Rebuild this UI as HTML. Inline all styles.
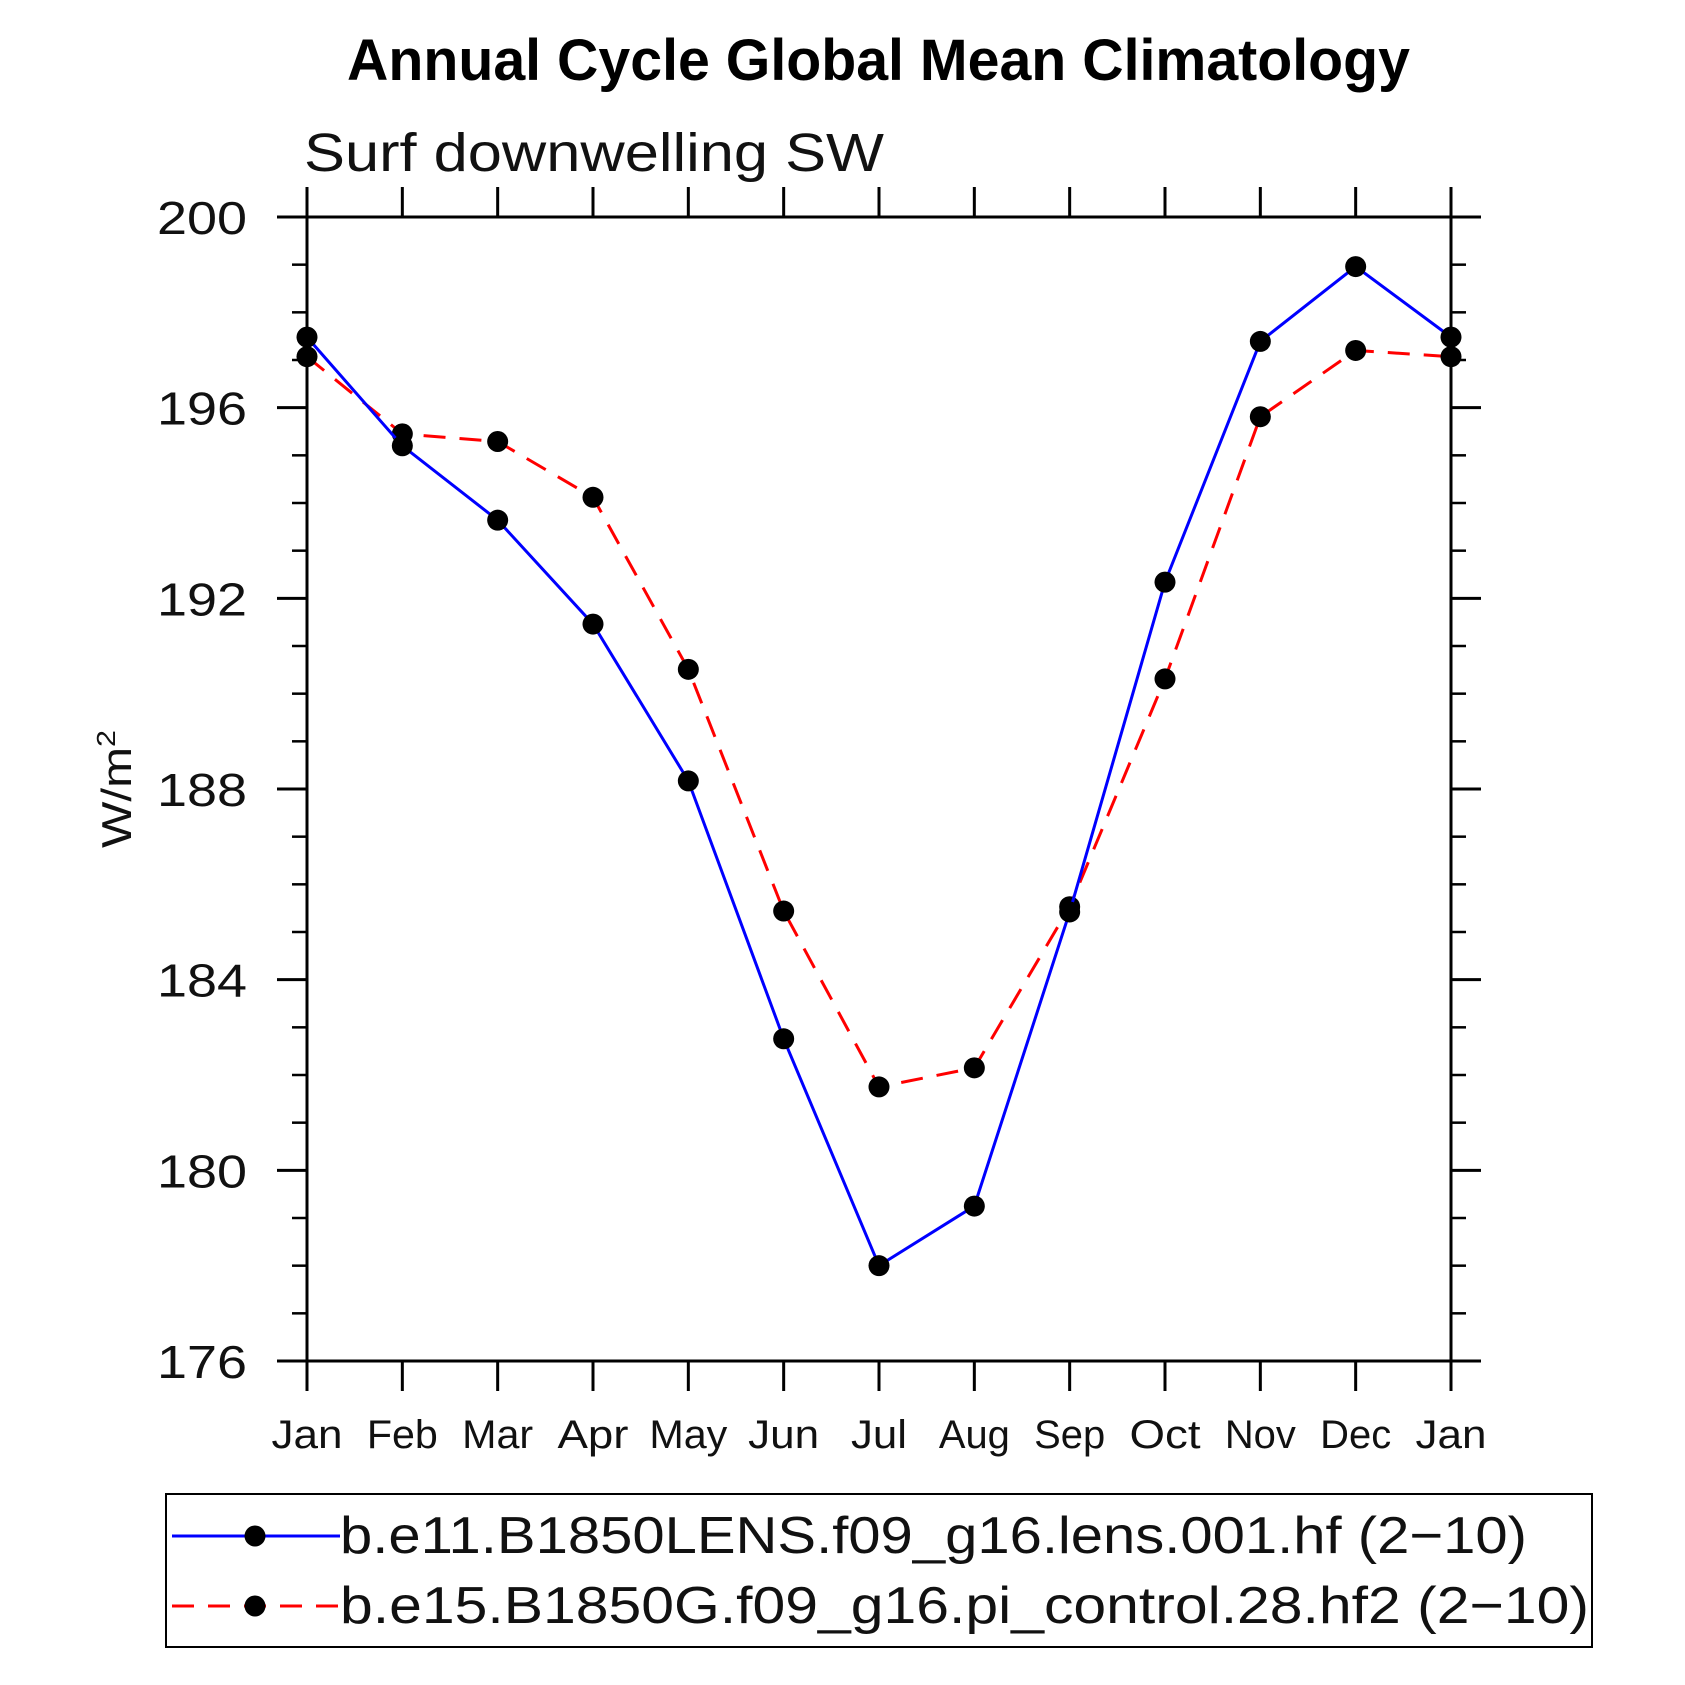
<!DOCTYPE html>
<html><head><meta charset="utf-8"><style>
html,body{margin:0;padding:0;background:#fff;}
svg{display:block;}
text{font-family:"Liberation Sans","DejaVu Sans",sans-serif;}
</style></head><body>
<svg id="chart" width="1685" height="1685" viewBox="0 0 1685 1685" xmlns="http://www.w3.org/2000/svg">
<text x="347" y="80" textLength="1063" lengthAdjust="spacingAndGlyphs" font-size="58" font-weight="bold">Annual Cycle Global Mean Climatology</text>
<text x="304" y="171" textLength="580" lengthAdjust="spacingAndGlyphs" font-size="54" fill="#111">Surf downwelling SW</text>
<text transform="translate(131,848) rotate(-90)" textLength="118" lengthAdjust="spacingAndGlyphs" font-size="42" fill="#111">W/m<tspan dy="-16" font-size="26">2</tspan></text>
<g id="axes"></g>
<g id="series"></g>
<rect x="166" y="1494" width="1426" height="153" fill="none" stroke="#000" stroke-width="2"/>
<g>
<line x1="172" y1="1536" x2="340" y2="1536" stroke="#0000ff" stroke-width="3"/>
<circle cx="255" cy="1536" r="10.5" fill="#000"/>
<text x="340" y="1553" textLength="1187" lengthAdjust="spacingAndGlyphs" font-size="52" fill="#111">b.e11.B1850LENS.f09_g16.lens.001.hf (2−10)</text>
</g>
<g>
<line x1="172" y1="1606" x2="340" y2="1606" stroke="#ff0000" stroke-width="3" stroke-dasharray="22,14"/>
<circle cx="255" cy="1606" r="10.5" fill="#000"/>
<text x="340" y="1623" textLength="1249" lengthAdjust="spacingAndGlyphs" font-size="52" fill="#111">b.e15.B1850G.f09_g16.pi_control.28.hf2 (2−10)</text>
</g>
</svg>
<script>
const months = ["Jan","Feb","Mar","Apr","May","Jun","Jul","Aug","Sep","Oct","Nov","Dec","Jan"];
const lensValues = [197.48,195.2,193.64,191.46,188.17,182.76,178.0,179.25,185.42,192.34,197.39,198.96,197.48];
const controlValues = [197.07,195.45,195.29,194.12,190.51,185.44,181.75,182.15,185.53,190.31,195.81,197.2,197.07];
const yTicks = [176,180,184,188,192,196,200];
const yMin = 176, yMax = 200;

const NS = "http://www.w3.org/2000/svg";
const L = 307, R = 1451, T = 217, B = 1361;
const xs = i => L + (R - L) * i / (months.length - 1);
const ys = v => B - (B - T) * (v - yMin) / (yMax - yMin);
function mk(tag, attrs, parent) {
  const e = document.createElementNS(NS, tag);
  for (const k in attrs) e.setAttribute(k, attrs[k]);
  parent.appendChild(e);
  return e;
}
const axes = document.getElementById('axes');
const frame = mk('rect', {x:L, y:T, width:R-L, height:B-T, fill:'none', stroke:'#000', 'stroke-width':3}, axes);


months.forEach((m, i) => {
  const x = xs(i);
  mk('line', {x1:x, y1:B, x2:x, y2:B+30, stroke:'#000', 'stroke-width':3}, axes);
  mk('line', {x1:x, y1:T, x2:x, y2:T-30, stroke:'#000', 'stroke-width':3}, axes);
  const w = m === 'Jul' ? 56 : (m === 'May' ? 78 : 71);
  const t = mk('text', {x:x - w/2, y:1448, textLength:w, lengthAdjust:'spacingAndGlyphs', 'font-size':40, fill:'#111'}, axes);
  t.textContent = m;
  
  
});
for (let v = yMin; v <= yMax; v++) {
  const y = ys(v);
  const major = yTicks.includes(v);
  const len = major ? 30 : 15;
  mk('line', {x1:L, y1:y, x2:L-len, y2:y, stroke:'#000', 'stroke-width': major ? 3 : 2.5}, axes);
  mk('line', {x1:R, y1:y, x2:R+len, y2:y, stroke:'#000', 'stroke-width': major ? 3 : 2.5}, axes);
}
yTicks.forEach(v => {
  const t = mk('text', {x:157, y:ys(v)+17, textLength:90, lengthAdjust:'spacingAndGlyphs', 'font-size':46, fill:'#111'}, axes);
  t.textContent = v;
  
  
});
const series = document.getElementById('series');
function drawSeries(vals, color, dash, name) {
  const g = mk('g', {}, series);
  
  
  const pts = vals.map((v, i) => xs(i) + ',' + ys(v)).join(' ');
  const pl = mk('polyline', {points:pts, fill:'none', stroke:color, 'stroke-width':3}, g);
  if (dash) pl.setAttribute('stroke-dasharray', dash);
  
  
  vals.forEach((v, i) => {
    const c = mk('circle', {cx:xs(i), cy:ys(v), r:10.5, fill:'#000'}, g);
    
    
  });
}
drawSeries(controlValues, '#ff0000', '22,14', 'control-series');
drawSeries(lensValues, '#0000ff', null, 'lens-series');
</script>
</body></html>
